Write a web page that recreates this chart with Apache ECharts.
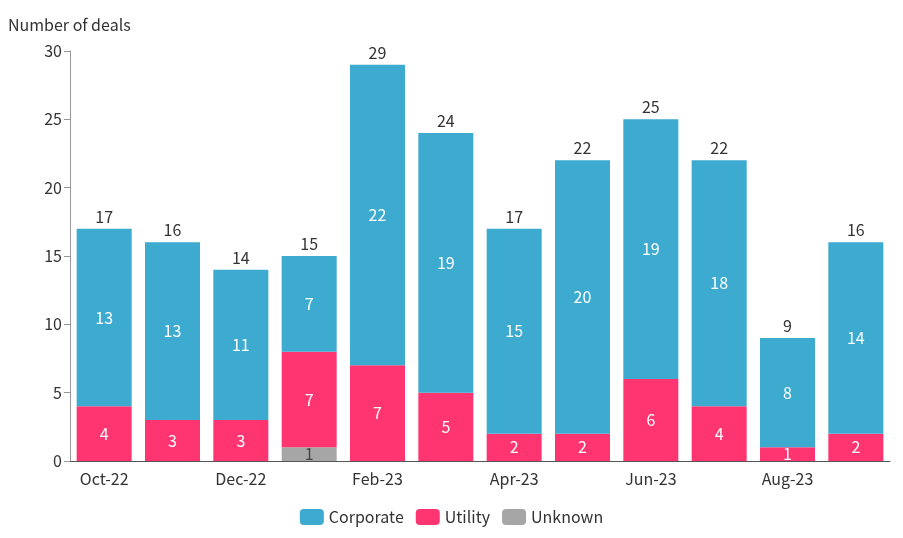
<!DOCTYPE html>
<html lang="en">
<head>
    <meta charset="UTF-8">
    <title>Number of deals</title>
    <script src="https://cdn.jsdelivr.net/npm/echarts@6/dist/echarts.min.js"></script>
</head>
<body style="margin:0">
<div id="main" style="width:903px;height:538px;"></div>
<script>
    var months = ['Oct-22','Nov-22','Dec-22','Jan-23','Feb-23','Mar-23','Apr-23','May-23','Jun-23','Jul-23','Aug-23','Sep-23'];
    var corporate = [13, 13, 11, 7, 22, 19, 15, 20, 19, 18, 8, 14];
    var utility = [4, 3, 3, 7, 7, 5, 2, 2, 6, 4, 1, 2];
    var unknown = [0, 0, 0, 1, 0, 0, 0, 0, 0, 0, 0, 0];
    var totals = months.map(function (m, i) { return corporate[i] + utility[i] + unknown[i]; });

    var font = 'Noto Sans CJK JP';
    var chart = echarts.init(document.getElementById('main'));
    function inside(color) {
        return {
            show: true, color: color, fontSize: 16, fontFamily: font,
            formatter: function (p) { return p.value ? p.value : ''; }
        };
    }
    chart.setOption({
        textStyle: { fontFamily: font },
        grid: { left: 70, right: 13, top: 51, bottom: 77 },
        legend: {
            bottom: 8, itemWidth: 24, itemHeight: 16, itemGap: 12,
            data: ['Corporate', 'Utility', 'Unknown'],
            textStyle: { fontSize: 16, color: '#333', fontFamily: font }
        },
        xAxis: {
            type: 'category', data: months,
            axisTick: { show: false },
            axisLine: { lineStyle: { color: '#555' } },
            axisLabel: { fontSize: 16, color: '#333', fontFamily: font, margin: 10 }
        },
        yAxis: {
            type: 'value', min: 0, max: 30, interval: 5,
            name: 'Number of deals', nameGap: 18,
            nameTextStyle: { fontSize: 16, color: '#333', align: 'left', padding: [0, 0, 0, -62] },
            splitLine: { show: false },
            axisLine: { show: true, lineStyle: { color: '#999' } },
            axisTick: { show: true, length: 6, inside: false, lineStyle: { color: '#999' } },
            axisLabel: { fontSize: 16, color: '#333', fontFamily: font }
        },
        series: [
            { name: 'Unknown', type: 'bar', stack: 'a', barWidth: 55, data: unknown,
              itemStyle: { color: '#A6A6A6' }, label: inside('#444') },
            { name: 'Utility', type: 'bar', stack: 'a', data: utility,
              itemStyle: { color: '#FF3572' }, label: inside('#fff') },
            { name: 'Corporate', type: 'bar', stack: 'a', data: corporate,
              itemStyle: { color: '#3DAAD0' }, label: inside('#fff') },
            { name: 'Total', type: 'bar', stack: 'a', data: months.map(function () { return 0; }),
              itemStyle: { color: 'transparent' },
              label: { show: true, position: 'top', distance: 4, fontSize: 16, color: '#333', fontFamily: font,
                       formatter: function (p) { return totals[p.dataIndex]; } } }
        ]
    });
</script>
</body>
</html>
